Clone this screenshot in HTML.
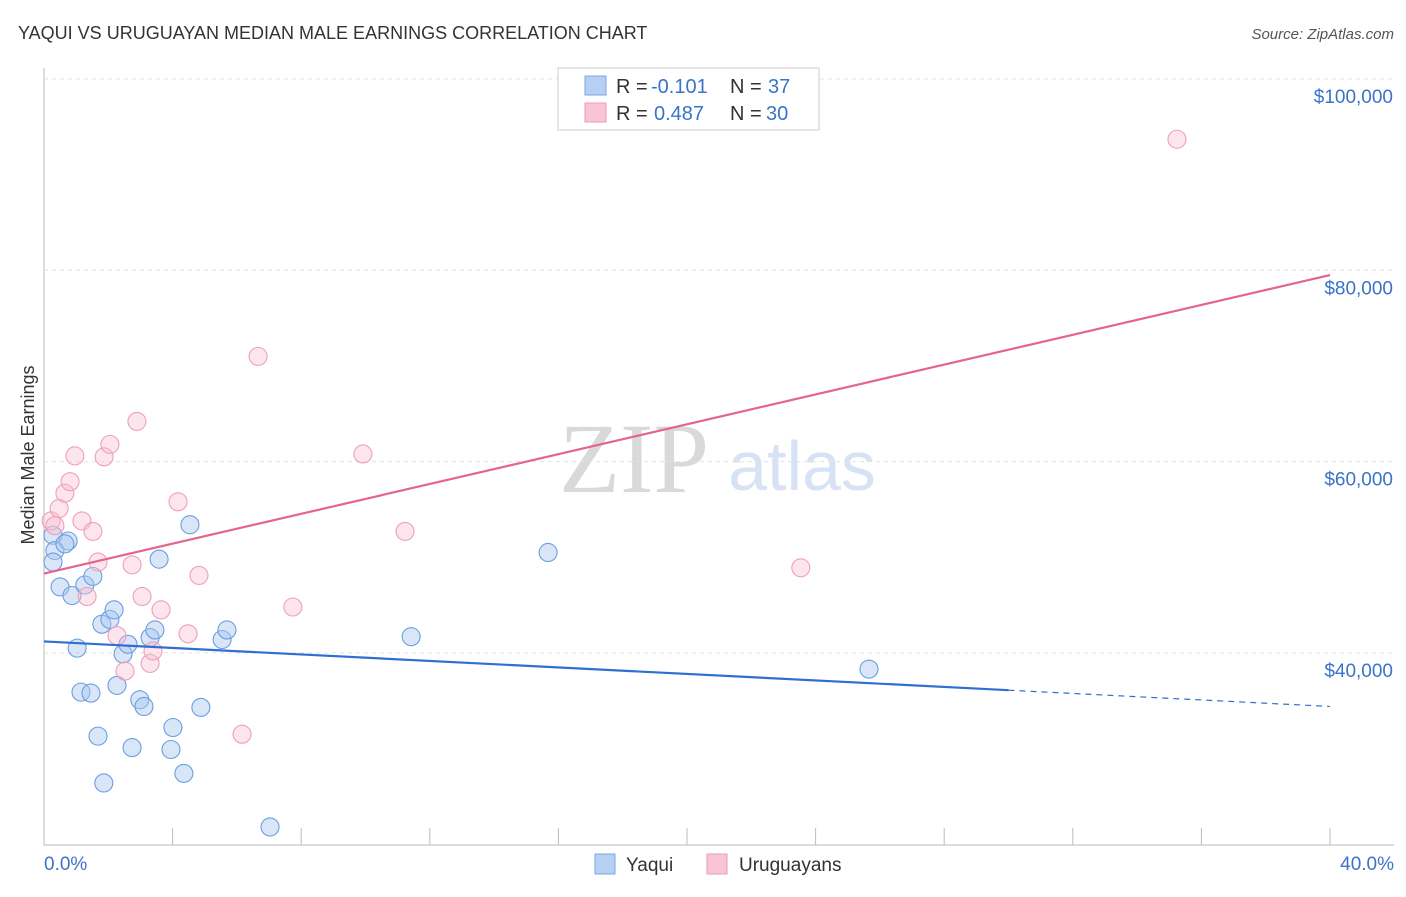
<!DOCTYPE html>
<html><head><meta charset="utf-8"><style>
body{margin:0;background:#fff;font-family:"Liberation Sans",sans-serif}
svg text{font-family:"Liberation Sans",sans-serif}
</style></head><body>
<svg id="c" width="1406" height="892">
<text x="18" y="39" font-size="18" fill="#333">YAQUI VS URUGUAYAN MEDIAN MALE EARNINGS CORRELATION CHART</text>
<text x="1394" y="39" font-size="15" fill="#555" text-anchor="end" font-style="italic">Source: ZipAtlas.com</text>
<text x="34" y="455" font-size="18" fill="#333" transform="rotate(-90 34 455)" text-anchor="middle">Median Male Earnings</text>
<text x="634" y="492" font-size="100" fill="#d9d9d9" style="font-family:'Liberation Serif',serif" text-anchor="middle">ZIP</text>
<text x="802" y="490" font-size="70" fill="#d7e3f4" text-anchor="middle">atlas</text>
<g id="grid"></g><g id="pts"></g><g id="lines"></g>
<g>
<rect x="558" y="68" width="261" height="62" fill="#fff" stroke="#ccc"/>
<rect x="585" y="76" width="21" height="19" fill="#b5d0f3" stroke="#7aa7e0"/>
<rect x="585" y="103" width="21" height="19" fill="#f9c5d4" stroke="#ef9ab3"/>
<text x="616" y="93" font-size="20" fill="#333">R =</text>
<text x="651" y="93" font-size="20" fill="#3b73c8">-0.101</text>
<text x="730" y="93" font-size="20" fill="#333">N =</text>
<text x="768" y="93" font-size="20" fill="#3b73c8">37</text>
<text x="616" y="120" font-size="20" fill="#333">R =</text>
<text x="654" y="120" font-size="20" fill="#3b73c8">0.487</text>
<text x="730" y="120" font-size="20" fill="#333">N =</text>
<text x="766" y="120" font-size="20" fill="#3b73c8">30</text>
</g>
<g>
<rect x="595" y="854" width="20" height="20" fill="#b5d0f3" stroke="#7aa7e0"/>
<text x="626" y="871" font-size="19" fill="#333">Yaqui</text>
<rect x="707" y="854" width="20" height="20" fill="#f9c5d4" stroke="#ef9ab3"/>
<text x="739" y="871" font-size="19" fill="#333">Uruguayans</text>
</g>
<text x="44" y="870" font-size="19" fill="#3b73c8">0.0%</text>
<text x="1394" y="870" font-size="19" fill="#3b73c8" text-anchor="end">40.0%</text>
</svg>
<script>
const yTicks=[40000,60000,80000,100000];
const yTickLabels=["$40,000","$60,000","$80,000","$100,000"];
const blueX=[0.28,0.34,0.28,0.5,0.75,0.65,0.87,1.03,1.15,1.27,1.46,1.52,1.68,1.8,1.86,2.05,2.18,2.27,2.46,2.61,2.74,2.98,3.11,3.3,3.45,3.58,3.95,4.01,4.35,4.54,4.88,5.54,5.69,7.03,11.42,15.68,25.66];
const blueY=[52300,50700,49500,46900,51700,51400,46000,40500,35900,47100,35800,48000,31300,43000,26400,43500,44500,36600,39900,40900,30100,35100,34400,41600,42400,49800,29900,32200,27400,53400,34300,41400,42400,21800,41700,50500,38300];
const pinkX=[0.22,0.34,0.47,0.65,0.81,0.96,1.18,1.52,1.68,1.34,1.87,2.05,2.74,2.89,3.05,2.27,2.52,3.3,3.39,3.64,4.17,4.48,4.82,6.16,6.66,7.74,9.92,11.23,23.54,35.24];
const pinkY=[53800,53300,55100,56700,57900,60600,53800,52700,49500,45900,60500,61800,49200,64200,45900,41800,38100,38900,40200,44500,55800,42000,48100,31500,71000,44800,60800,52700,48900,93700];
const trendBlue=[[0,41200],[30,36100],[40,34400]];
const trendPink=[[0,48300],[40,79500]];
const X=v=>44+v/40*1286, Y=v=>79+(100000-v)/20000*191.3;
const ns="http://www.w3.org/2000/svg";
function mk(t,a,p){const e=document.createElementNS(ns,t);for(const k in a)e.setAttribute(k,a[k]);p.appendChild(e);return e;}
const g=document.getElementById('grid');
mk('line',{x1:44,y1:68,x2:44,y2:845,stroke:'#bbb'},g);
mk('line',{x1:44,y1:845,x2:1394,y2:845,stroke:'#bbb'},g);
yTicks.forEach((t,i)=>{const l=mk('line',{x1:44,y1:Y(t),x2:1394,y2:Y(t),stroke:'#e2e2e2','stroke-dasharray':'4,4'},g);

const tx=mk('text',{x:1393,y:Y(t)+24,'font-size':19,fill:'#3b73c8','text-anchor':'end'},g);tx.textContent=yTickLabels[i];
});
for(let i=1;i<=10;i++){const l=mk('line',{x1:X(i*4),y1:828,x2:X(i*4),y2:845,stroke:'#bbb'},g);
}
const p=document.getElementById('pts');
blueX.forEach((v,i)=>{const c=mk('circle',{cx:X(v),cy:Y(blueY[i]),r:9,fill:'rgba(168,200,240,0.45)',stroke:'#6b9ee0','stroke-width':1.1},p);
});
pinkX.forEach((v,i)=>{const c=mk('circle',{cx:X(v),cy:Y(pinkY[i]),r:9,fill:'rgba(248,190,208,0.4)',stroke:'#eea0b8','stroke-width':1.1},p);
});
const L=document.getElementById('lines');
let a=mk('line',{x1:X(trendBlue[0][0]),y1:Y(trendBlue[0][1]),x2:X(trendBlue[1][0]),y2:Y(trendBlue[1][1]),stroke:'#2f6fd0','stroke-width':2.2},L);

a=mk('line',{x1:X(trendBlue[1][0]),y1:Y(trendBlue[1][1]),x2:X(trendBlue[2][0]),y2:Y(trendBlue[2][1]),stroke:'#2f6fd0','stroke-width':1.2,'stroke-dasharray':'6,5'},L);

a=mk('line',{x1:X(trendPink[0][0]),y1:Y(trendPink[0][1]),x2:X(trendPink[1][0]),y2:Y(trendPink[1][1]),stroke:'#e4648e','stroke-width':2.2},L);

</script>
</body></html>
